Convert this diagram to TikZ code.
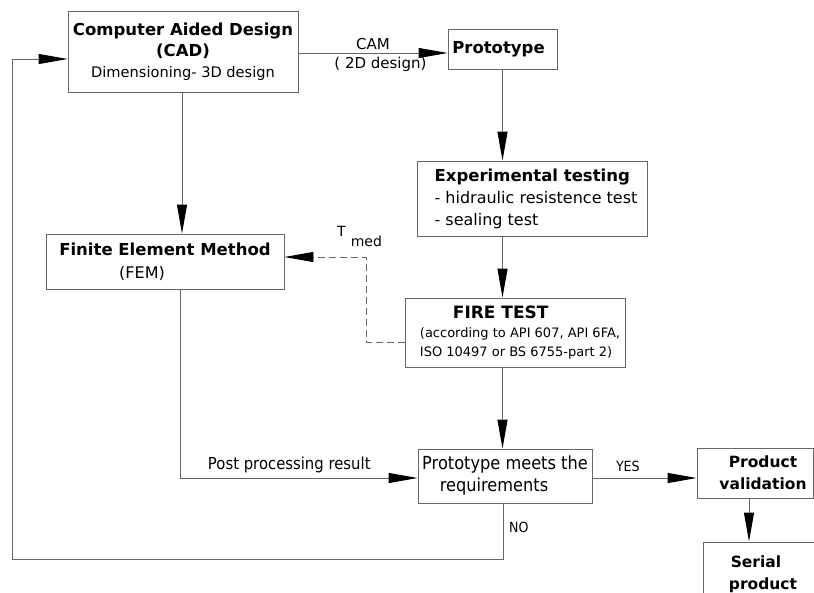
\documentclass[tikz,border=0pt]{standalone}
\usepackage{fontspec}
\setmainfont{DejaVu Sans}
\newfontfamily\condfont{DejaVu Sans}[FakeStretch=0.9]
\usetikzlibrary{arrows.meta,positioning}
\newcommand\hd[1]{{\bfseries\fontsize{16.5}{21}\selectfont #1}}

\begin{document}
\begin{tikzpicture}[x=1pt,y=-1pt,
    box/.style={draw=black!60,line width=0.9pt,inner sep=0pt},
    flow/.style={draw=black!60,line width=0.9pt,-{Triangle[length=29pt,width=10pt,color=black]}},
    feed/.style={flow,dashed,dash pattern=on 7pt off 4pt},
    lbl/.style={inner sep=0pt,font=\fontsize{15}{18}\selectfont},
    clbl/.style={inner sep=0pt,font=\condfont\fontsize{16.5}{20}\selectfont}]
    \useasboundingbox (0,0) rectangle (814,592);
    \clip (0,0) rectangle (814,592);
    \fill[white] (0,0) rectangle (814,592);
        \node[box,minimum width=230pt,minimum height=81pt,align=center,font=\fontsize{14.6}{21}\selectfont] (CAD) at (183,51.5)
            {\hd{Computer Aided Design}\\ \hd{(CAD)}\hspace*{34pt}\\ Dimensioning- 3D design};
        \node[box,minimum width=109pt,minimum height=40pt,font=\bfseries\fontsize{16.5}{21}\selectfont] (Proto) at (502.5,49) {Prototype\hspace*{8pt}};
        \node[box,minimum width=230pt,minimum height=75pt,align=left,font=\fontsize{16}{22}\selectfont] (Exp) at (532,198.5)
            {\hspace*{8pt}\hd{Experimental testing}\\ \hspace*{8pt}- hidraulic resistence test\\ \hspace*{8pt}- sealing test};
        \node[box,minimum width=238pt,minimum height=55pt,align=center,font=\fontsize{16}{23}\selectfont] (FEM) at (165,261.5)
            {\hd{Finite Element Method}\\ (FEM)\hspace*{46pt}};
        \node[box,minimum width=220pt,minimum height=69pt,align=left,font=\fontsize{13}{19}\selectfont] (Fire) at (515,332.5)
            {\hspace*{43pt}{\bfseries\fontsize{17}{21}\selectfont FIRE TEST}\\ \hspace*{10pt}(according to API 607, API 6FA,\\ \hspace*{10pt}ISO 10497 or BS 6755-part 2)};
        \node[box,minimum width=174pt,minimum height=54pt,align=center,font=\condfont\fontsize{18}{22}\selectfont] (Meets) at (505,476)
            {Prototype meets the\\ requirements\hspace*{22pt}};
        \node[box,minimum width=116pt,minimum height=50pt,align=center,font=\bfseries\fontsize{15.5}{22}\selectfont] (Valid) at (755,473)
            {\hspace*{16pt}Product\\ \hspace*{16pt}validation};
        \node[box,minimum width=120pt,minimum height=64pt,align=center,font=\bfseries\fontsize{15.5}{22}\selectfont] (Serial) at (763,574)
            {Serial\hspace*{14pt}\\ product};
        \coordinate (back) at (12,559);
        \coordinate (bend) at (366,342);

        \draw[flow] ([yshift=-1.5pt]CAD.east) -- ([yshift=-1.5pt]CAD.east -| Proto.west)
            node[lbl,pos=0.5,above=3pt] (cam) {CAM}
            node[lbl,pos=0.55,below=4pt] (cad2d) {( 2D design)};
        \draw[flow] ([xshift=-1pt]CAD.south) -- ([xshift=-1pt]CAD.south |- FEM.north);
        \draw[flow] (Proto.south) -- (Proto.south |- Exp.north);
        \draw[flow] (Proto.south |- Exp.south) -- (Proto.south |- Fire.north);
        \draw[flow] (Proto.south |- Fire.south) -- (Proto.south |- Meets.north);
        \draw[feed] (Fire.west |- bend) -| ([yshift=4.5pt]bend |- FEM.east) -- ([yshift=4.5pt]FEM.east);
        \node[lbl,font=\fontsize{14}{16}\selectfont,anchor=north west] (tmed) at (337,226) {T\hspace{5pt}\raisebox{-10pt}{med}};
        \draw[flow] ([xshift=-3pt]CAD.south |- FEM.south) |- ([yshift=-2pt]Meets.west)
            node[clbl,pos=0.73,above=5pt] (post) {Post processing result};
        \draw[flow] ([yshift=-2pt]Meets.east) -- ([yshift=-2pt]Meets.east -| Valid.west)
            node[clbl,font=\condfont\fontsize{14}{16}\selectfont,pos=0.34,above=6pt] (yes) {YES};
        \draw[flow] ([xshift=-2pt]Meets.south) |- (back) |- ([yshift=-7.5pt]CAD.west);
        \node[clbl,font=\condfont\fontsize{14}{16}\selectfont,anchor=west] (no) at ([shift={(4pt,-24pt)}]Meets.south) {NO};
        \draw[flow] ([xshift=-6pt]Valid.south) -- ([xshift=-6pt]Valid.south |- Serial.north);
\end{tikzpicture}
\end{document}
